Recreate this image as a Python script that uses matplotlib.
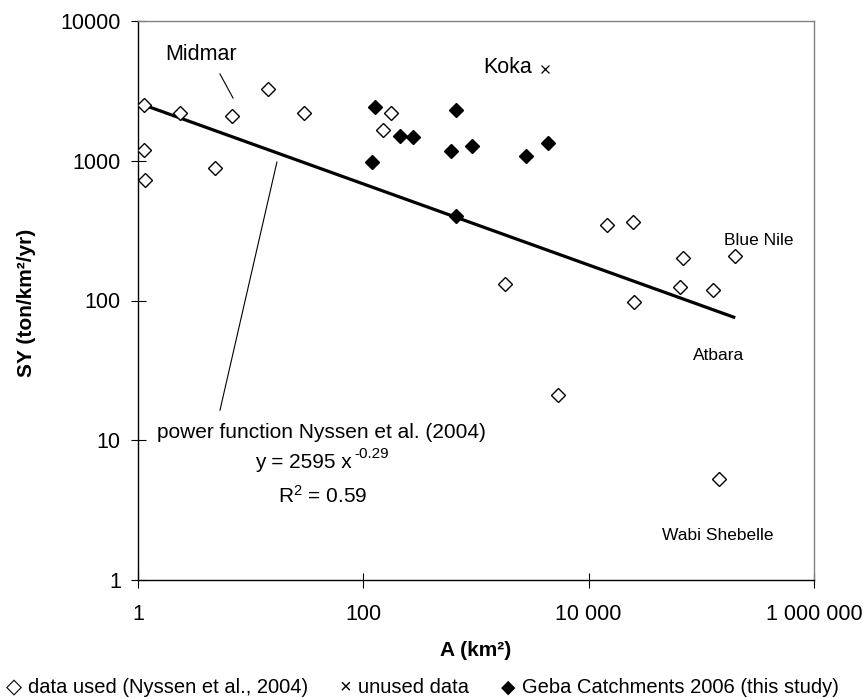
import matplotlib
matplotlib.use('Agg')
import matplotlib.pyplot as plt
import numpy as np

plt.rcParams['font.family'] = ['Liberation Sans', 'DejaVu Sans']
plt.rcParams['mathtext.fontset'] = 'custom'
plt.rcParams['mathtext.rm'] = 'Liberation Sans'
plt.rcParams['mathtext.it'] = 'Liberation Sans:italic'
plt.rcParams['mathtext.bf'] = 'Liberation Sans:bold'

# ---- data ----
# data used (Nyssen et al., 2004)
used_area = [1.12, 1.12, 1.16, 2.37, 4.82, 6.78, 14.2, 29.7, 151, 175,
             1805, 5300, 14400, 24700, 25300, 65300, 69000, 128000, 144000, 197000]
used_sy = [2495, 1200, 724, 2186, 892, 2080, 3280, 2186, 1660, 2207,
           132, 21.1, 347, 366, 98, 124, 200, 119, 5.3, 208]

# unused data (Koka)
unused_area = [4085]
unused_sy = [4510]

# Geba Catchments 2006 (this study)
geba_area = [120, 128, 212, 275, 595, 663, 663, 925, 2755, 4345]
geba_sy = [975, 2437, 1503, 1490, 1175, 2296, 400, 1282, 1076, 1346]

# power function Nyssen et al. (2004)
fit_coef = 2595
fit_exp = -0.29
fit_range = [1.1, 2.0e5]

x_ticks = [1, 100, 10000, 1000000]
x_ticklabels = ['1', '100', '10 000', '1 000 000']
y_ticks = [1, 10, 100, 1000, 10000]
y_ticklabels = ['1', '10', '100', '1000', '10000']

# ---- figure ----
W, H = 863, 698
fig = plt.figure(figsize=(W / 100, H / 100), dpi=100)
ax = fig.add_axes([138 / W, 1 - 580 / H, (814 - 138) / W, (580 - 21) / H])
ax.set_xscale('log')
ax.set_yscale('log')
ax.set_xlim(1, 1e6)
ax.set_ylim(1, 1e4)

fit_x = np.array(fit_range)
fit_y = fit_coef * fit_x ** fit_exp
ax.plot(fit_x, fit_y, color='black', lw=2.3, solid_capstyle='butt', zorder=2)

ax.plot(used_area, used_sy, linestyle='none', marker='D', ms=6.8, mfc='white',
        mec='black', mew=1.0, zorder=3)
ax.plot(geba_area, geba_sy, linestyle='none', marker='D', ms=6.8, mfc='black',
        mec='black', mew=1.0, zorder=4)
ax.plot(unused_area, unused_sy, linestyle='none', marker='x', ms=6.2,
        color='black', mew=0.9, zorder=3)

# spines
for s in ['left', 'bottom']:
    ax.spines[s].set_color('black')
    ax.spines[s].set_linewidth(1.0)
for s in ['top', 'right']:
    ax.spines[s].set_color('#808080')
    ax.spines[s].set_linewidth(1.0)

ax.set_xticks(x_ticks)
ax.set_xticklabels(x_ticklabels)
ax.set_yticks(y_ticks)
ax.set_yticklabels(y_ticklabels)
ax.minorticks_off()
ax.tick_params(axis='both', direction='inout', length=10.8, width=0.8,
               color='black', labelsize=15.5)
ax.tick_params(axis='x', pad=12)
ax.tick_params(axis='y', pad=7)

# axis labels
fig.text(27 / W, 1 - 303 / H, 'SY (ton/km²/yr)', rotation=90, ha='center',
         va='center', fontsize=15, fontweight='bold')
fig.text(476 / W, 1 - 651 / H, 'A (km²)', ha='center', va='center',
         fontsize=15, fontweight='bold')

# annotations
ax.text(3.62, 5260, 'Midmar', ha='center', va='baseline', fontsize=15.5)
ax.plot([5.34, 6.97], [4180, 2813], color='black', lw=0.8)
ax.text(1919, 4250, 'Koka', ha='center', va='baseline', fontsize=15.5)

ax.plot([17.1, 5.34], [979, 16.4], color='black', lw=0.8)
ax.text(42.9, 10.4, 'power function Nyssen et al. (2004)', ha='center',
        va='baseline', fontsize=15)
fig.text(255 / W, 1 - 468 / H, 'y = 2595 x', ha='left', va='baseline',
         fontsize=15)
fig.text(354 / W, 1 - 458 / H, '-0.29', ha='left', va='baseline',
         fontsize=11)
fig.text(323 / W, 1 - 503 / H, r'R$^{2}$ = 0.59', ha='center', va='baseline',
         fontsize=15)

ax.text(324000, 249, 'Blue Nile', ha='center', va='baseline', fontsize=12.5)
ax.text(143000, 37.5, 'Atbara', ha='center', va='baseline', fontsize=12.5)
ax.text(140000, 1.93, 'Wabi Shebelle', ha='center', va='baseline', fontsize=12.5)

# legend (bottom row)
ly = 1 - 693 / H
fs_leg = 14.5
fig.text(6 / W, ly, '◇', ha='left', va='baseline', fontsize=15)
fig.text(28 / W, ly, 'data used (Nyssen et al., 2004)', ha='left',
         va='baseline', fontsize=fs_leg)
fig.text(340 / W, ly, '×', ha='left', va='baseline', fontsize=fs_leg)
fig.text(358 / W, ly, 'unused data', ha='left', va='baseline', fontsize=fs_leg)
fig.text(501 / W, ly, '◆', ha='left', va='baseline', fontsize=13.5)
fig.text(522 / W, ly, 'Geba Catchments 2006 (this study)', ha='left',
         va='baseline', fontsize=fs_leg)

fig.savefig('out.png', dpi=100)
